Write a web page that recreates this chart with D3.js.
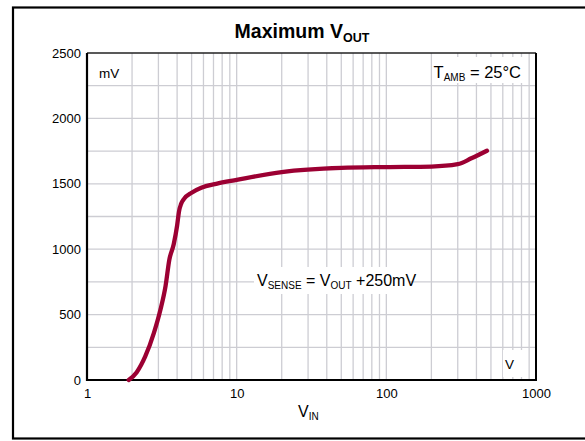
<!DOCTYPE html>
<html>
<head>
<meta charset="utf-8">
<script src="https://cdn.jsdelivr.net/npm/d3@7/dist/d3.min.js"></script>
<style>
  html, body { margin: 0; padding: 0; background: #fff; }
  svg { display: block; font-family: "Liberation Sans", Arial, Helvetica, sans-serif; }
</style>
</head>
<body>
<svg id="chart" width="585" height="441"></svg>
<script>
// Maximum output voltage versus input voltage
const vin  = [1.9, 2.15, 2.45, 2.8, 3.1, 3.35, 3.55, 3.8, 4.0, 4.12, 4.25, 4.45, 5.0, 5.8, 7.3, 10, 20, 50, 100, 200, 300, 370, 470];
const vout = [0, 60, 180, 360, 540, 720, 920, 1040, 1180, 1290, 1345, 1385, 1432, 1470, 1500, 1530, 1590, 1622, 1628, 1632, 1650, 1695, 1753];
const xTickValues = [1, 10, 100, 1000];
const xTickLabels = ["1", "10", "100", "1000"];
const yTickValues = [0, 500, 1000, 1500, 2000, 2500];
const yTickLabels = ["0", "500", "1000", "1500", "2000", "2500"];

const svg = d3.select("#chart");
const plot = { left: 87, top: 53, right: 536, bottom: 380 };

const x = d3.scaleLog().domain([1, 1000]).range([plot.left, plot.right]);
const y = d3.scaleLinear().domain([0, 2500]).range([plot.bottom, plot.top]);

// outer frame
svg.append("rect")
  .attr("x", 13).attr("y", 7.5)
  .attr("width", 600).attr("height", 431)
  .attr("fill", "none").attr("stroke", "#000").attr("stroke-width", 2.2);

// title
const title = svg.append("text")
  .attr("x", 302).attr("y", 37.5)
  .attr("text-anchor", "middle")
  .attr("font-weight", "bold").attr("font-size", 19.5).attr("fill", "#000");
title.append("tspan").text("Maximum V");
title.append("tspan").attr("font-size", 12.5).attr("dy", 4).text("OUT");

// grid
const gridColor = "#cdcdd3";
const minorX = [];
[1, 10, 100].forEach(d => { for (let k = 2; k <= 9; k++) minorX.push(d * k); });
svg.append("g").selectAll("line").data(minorX.concat([10, 100])).join("line")
  .attr("x1", d => x(d)).attr("x2", d => x(d))
  .attr("y1", plot.top).attr("y2", plot.bottom)
  .attr("stroke", gridColor).attr("stroke-width", 1.3);
svg.append("g").selectAll("line").data(d3.range(250, 2500, 250)).join("line")
  .attr("x1", plot.left).attr("x2", plot.right)
  .attr("y1", d => y(d)).attr("y2", d => y(d))
  .attr("stroke", gridColor).attr("stroke-width", 1.3);

// label backgrounds that break the grid
function box(x0, y0, x1, y1) {
  svg.append("rect").attr("x", x0).attr("y", y0)
    .attr("width", x1 - x0).attr("height", y1 - y0).attr("fill", "#fff");
}
box(433, 57, 527, 83);
box(503, 350, 526, 377);
box(254, 267, 410, 294);

// axes
const xAxis = d3.axisBottom(x).tickValues(xTickValues)
  .tickFormat((d, i) => xTickLabels[i]).tickSize(0).tickPadding(9);
const yAxis = d3.axisLeft(y).tickValues(yTickValues)
  .tickFormat((d, i) => yTickLabels[i]).tickSize(0).tickPadding(6);

const gx = svg.append("g").attr("transform", `translate(0,${plot.bottom})`).call(xAxis);
const gy = svg.append("g").attr("transform", `translate(${plot.left},0)`).call(yAxis);
[gx, gy].forEach(g => {
  g.select(".domain").remove();
  g.selectAll("text").attr("font-size", 13).attr("fill", "#000")
    .attr("font-family", "'Liberation Sans', Arial, sans-serif");
});

// plot frame
svg.append("line").attr("x1", plot.left).attr("x2", plot.right)
  .attr("y1", plot.top).attr("y2", plot.top).attr("stroke", "#222").attr("stroke-width", 1.5);
svg.append("line").attr("x1", plot.right).attr("x2", plot.right)
  .attr("y1", plot.top).attr("y2", plot.bottom).attr("stroke", "#000").attr("stroke-width", 2);
svg.append("line").attr("x1", plot.left).attr("x2", plot.left)
  .attr("y1", plot.top).attr("y2", plot.bottom + 1).attr("stroke", "#000").attr("stroke-width", 2.2);
svg.append("line").attr("x1", plot.left).attr("x2", plot.right + 1)
  .attr("y1", plot.bottom).attr("y2", plot.bottom).attr("stroke", "#000").attr("stroke-width", 2.2);

// curve
const pts = vin.map((v, i) => [v, vout[i]]);
svg.append("path").datum(pts)
  .attr("d", d3.line().x(d => x(d[0])).y(d => y(d[1])).curve(d3.curveMonotoneX))
  .attr("fill", "none").attr("stroke", "#9c0033").attr("stroke-width", 4.3)
  .attr("stroke-linecap", "round").attr("stroke-linejoin", "round");

// annotations
svg.append("text").attr("x", 99).attr("y", 78).attr("font-size", 13.5).text("mV");
svg.append("text").attr("x", 505).attr("y", 369).attr("font-size", 13.5).text("V");

const tamb = svg.append("text").attr("x", 521).attr("y", 77.5)
  .attr("text-anchor", "end").attr("font-size", 16.5);
tamb.append("tspan").text("T");
tamb.append("tspan").attr("font-size", 10).attr("dy", 3).text("AMB");
tamb.append("tspan").attr("dy", -3).text(" = 25°C");

const vs = svg.append("text").attr("x", 257).attr("y", 286)
  .attr("font-size", 16);
vs.append("tspan").text("V");
vs.append("tspan").attr("font-size", 10).attr("dy", 3).text("SENSE");
vs.append("tspan").attr("dy", -3).text(" = V");
vs.append("tspan").attr("font-size", 10).attr("dy", 3).text("OUT");
vs.append("tspan").attr("dy", -3).text(" +250mV");

const vinLabel = svg.append("text").attr("x", 298).attr("y", 417).attr("font-size", 16);
vinLabel.append("tspan").text("V");
vinLabel.append("tspan").attr("font-size", 10).attr("dy", 3).text("IN");
</script>
</body>
</html>
